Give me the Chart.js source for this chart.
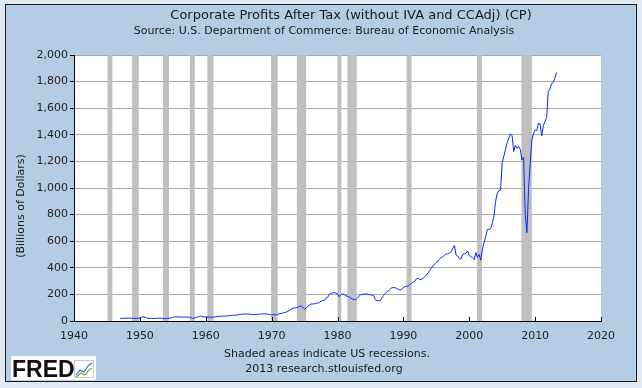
<!DOCTYPE html>
<html>
<head>
<meta charset="utf-8">
<script src="https://cdn.jsdelivr.net/npm/chart.js@4.4.0/dist/chart.umd.min.js"></script>
<style>
  html, body { margin: 0; padding: 0; background: #e1e9f2; }
  #wrap { width: 642px; height: 388px; }
</style>
</head>
<body>
<div id="wrap"><canvas id="chart" width="642" height="388"></canvas></div>
<script>
// Corporate Profits After Tax (CP), quarterly, billions of dollars, SAAR
const titleLines = [
  'Corporate Profits After Tax (without IVA and CCAdj) (CP)',
  'Source: U.S. Department of Commerce: Bureau of Economic Analysis'
];
const footerLines = ['Shaded areas indicate US recessions.', '2013 research.stlouisfed.org'];
const yAxisLabel = '(Billions of Dollars)';

const startYear = 1947; // first quarter of the series
const profits = [
  20, 20, 20, 20,   21, 22, 22, 21,   19, 19, 19, 20,         // 1947-49
  22, 28, 32, 30,   22, 20, 19, 20,   19, 19, 20, 21,         // 1950-52
  21, 21, 20, 18,   19, 20, 21, 23,   28, 30, 30, 31,         // 1953-55
  30, 30, 29, 30,   30, 29, 29, 26,   20, 21, 26, 30,         // 1956-58
  33, 37, 31, 31,   32, 30, 29, 29,   29, 30, 32, 35,         // 1959-61
  35, 36, 37, 37,   37, 38, 40, 41,   42, 43, 44, 45,         // 1962-64
  48, 49, 51, 52,   53, 53, 52, 51,   48, 47, 48, 50,         // 1965-67
  51, 52, 52, 54,   54, 53, 50, 48,   46, 47, 48, 46,         // 1968-70
  52, 56, 58, 60,   64, 68, 74, 80,   90, 96, 98, 100,        // 1971-73
  104, 110, 112, 103,   88, 100, 112, 120,   128, 128, 130, 134,   // 1974-76
  135, 138, 150, 154,   155, 172, 178, 200,   208, 210, 214, 210,   // 1977-79
  205, 183, 196, 204,   200, 190, 186, 182,   172, 165, 162, 160,   // 1980-82
  170, 186, 196, 200,   204, 203, 203, 198,   196, 196, 190, 160,   // 1983-85
  154, 152, 154, 175,   192, 208, 220, 228,   240, 250, 252, 250,   // 1986-88
  246, 238, 232, 238,   252, 258, 263, 262,   276, 282, 292, 300,   // 1989-91
  318, 322, 310, 314,   320, 334, 346, 362,   380, 396, 414, 428,   // 1992-94
  440, 452, 466, 476,   484, 495, 504, 504,   512, 520, 545, 568,   // 1995-97
  496, 489, 470, 466,   500, 505, 509, 526,   492, 484, 476, 462,   // 1998-2000
  514, 478, 500, 458,   540, 588, 636, 688,   690, 694, 735, 790,   // 2001-03
  900, 960, 980, 985,   1190, 1240, 1290, 1340,   1375, 1406, 1395, 1275,   // 2004-06
  1320, 1298, 1312, 1290,   1210, 1230, 800, 664,   990, 1185, 1360, 1410,  // 2007-09
  1436, 1432, 1486, 1482,   1391, 1470, 1500, 1530,   1725, 1745, 1785, 1792, // 2010-12
  1825, 1868                                                              // 2013
];

// NBER recessions, peak month to trough month (decimal years)
const recessionStarts = [1945.08, 1948.83, 1953.50, 1957.58, 1960.25, 1969.92, 1973.83, 1980.00, 1981.50, 1990.50, 2001.17, 2007.92];
const recessionEnds   = [1945.83, 1949.83, 1954.42, 1958.33, 1961.17, 1970.92, 1975.25, 1980.58, 1982.92, 1991.25, 2001.92, 2009.50];

const xTicks = [1940, 1950, 1960, 1970, 1980, 1990, 2000, 2010, 2020];
const yTicks = [0, 200, 400, 600, 800, 1000, 1200, 1400, 1600, 1800, 2000];

const points = profits.map((v, i) => ({ x: startYear + i / 4, y: v }));

const FONT = '"DejaVu Sans", Verdana, sans-serif';

const fredFrame = {
  id: 'fredFrame',
  beforeDraw(chart) {
    const { ctx, chartArea: a, width, height } = chart;
    ctx.save();
    ctx.fillStyle = '#e1e9f2';
    ctx.fillRect(0, 0, width, height);
    ctx.fillStyle = '#b4cde4';
    ctx.fillRect(5, 4, 631, 377);
    ctx.strokeStyle = '#1c1c1c';
    ctx.lineWidth = 1;
    ctx.strokeRect(5.5, 4.5, 631, 377);
    ctx.fillStyle = '#ffffff';
    ctx.fillRect(a.left, a.top, a.right - a.left, a.bottom - a.top);

    ctx.fillStyle = '#1a1a1a';
    ctx.textAlign = 'center';
    ctx.textBaseline = 'middle';
    ctx.font = '13px ' + FONT;
    ctx.fillText(titleLines[0], 351, 16);
    ctx.font = '11px ' + FONT;
    ctx.fillText(titleLines[1], 324, 31);
    ctx.fillText(footerLines[0], 327, 354);
    ctx.fillText(footerLines[1], 324, 369);

    ctx.save();
    ctx.translate(21, 206);
    ctx.rotate(-Math.PI / 2);
    ctx.fillText(yAxisLabel, 0, 0);
    ctx.restore();

    // FRED logo
    ctx.fillStyle = '#ffffff';
    ctx.fillRect(11, 356, 85, 24);
    ctx.fillStyle = '#111';
    ctx.textAlign = 'left';
    ctx.textBaseline = 'alphabetic';
    ctx.font = 'bold 23px "Liberation Sans", Arial, sans-serif';
    ctx.fillText('FRED', 12, 377);
    ctx.strokeStyle = '#c8c8c8';
    ctx.strokeRect(74.5, 360.5, 19, 17);
    ctx.lineWidth = 1.2;
    ctx.strokeStyle = '#3a6fd0';
    ctx.beginPath();
    ctx.moveTo(76, 375); ctx.lineTo(80, 370); ctx.lineTo(84, 372); ctx.lineTo(88, 366); ctx.lineTo(92, 363);
    ctx.stroke();
    ctx.strokeStyle = '#5fae3a';
    ctx.beginPath();
    ctx.moveTo(76, 377); ctx.lineTo(81, 373); ctx.lineTo(85, 375); ctx.lineTo(89, 370); ctx.lineTo(92, 368);
    ctx.stroke();
    ctx.restore();
  },
  beforeDatasetsDraw(chart) {
    const { ctx, chartArea: a, scales: { x } } = chart;
    ctx.save();
    ctx.fillStyle = '#bfbfbf';
    recessionStarts.forEach((s, i) => {
      const x0 = x.getPixelForValue(s);
      const x1 = x.getPixelForValue(recessionEnds[i]);
      ctx.fillRect(x0, a.top, x1 - x0, a.bottom - a.top);
    });
    ctx.restore();
  },
  afterDatasetsDraw(chart) {
    const { ctx, chartArea: a, scales: { x } } = chart;
    ctx.save();
    ctx.strokeStyle = '#000';
    ctx.lineWidth = 1;
    ctx.beginPath();
    ctx.moveTo(a.left + 0.5, a.top);
    ctx.lineTo(a.left + 0.5, a.bottom + 0.5);
    ctx.lineTo(a.right, a.bottom + 0.5);
    x.ticks.forEach(t => {
      const px = Math.round(x.getPixelForValue(t.value)) + 0.5;
      ctx.moveTo(px, a.bottom);
      ctx.lineTo(px, a.bottom - 4);
    });
    ctx.stroke();
    ctx.restore();
  }
};

new Chart(document.getElementById('chart'), {
  type: 'line',
  data: {
    datasets: [{
      data: points,
      borderColor: '#0a28ff',
      borderWidth: 1,
      pointRadius: 0,
      tension: 0,
      fill: false
    }]
  },
  options: {
    responsive: false,
    animation: false,
    layout: { padding: { left: 0, top: 55, right: 41, bottom: 0 } },
    plugins: { legend: { display: false }, tooltip: { enabled: false } },
    scales: {
      x: {
        type: 'linear',
        min: xTicks[0],
        max: xTicks[xTicks.length - 1],
        afterBuildTicks: s => { s.ticks = xTicks.map(v => ({ value: v })); },
        afterFit: s => { s.height = 67; },
        grid: { display: false },
        border: { display: true, color: '#000' },
        ticks: { color: '#222', font: { family: FONT, size: 11 }, padding: 1, maxRotation: 0, callback: v => String(v) }
      },
      y: {
        min: yTicks[0],
        max: yTicks[yTicks.length - 1],
        afterBuildTicks: s => { s.ticks = yTicks.map(v => ({ value: v })); },
        afterFit: s => { s.width = 74; },
        grid: { color: '#a9a9a9', tickColor: '#000', tickLength: 4 },
        border: { display: true, color: '#000' },
        ticks: { color: '#222', font: { family: FONT, size: 11 }, padding: 2, callback: v => v.toLocaleString('en-US') }
      }
    }
  },
  plugins: [fredFrame]
});
</script>
</body>
</html>
